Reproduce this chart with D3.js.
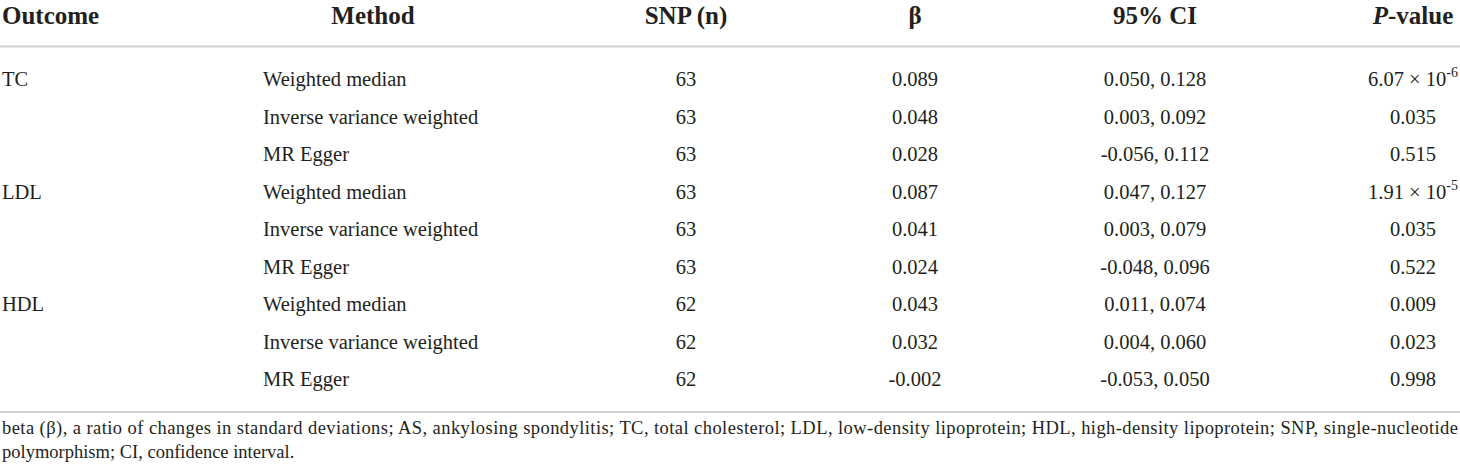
<!DOCTYPE html>
<html>
<head>
<meta charset="utf-8">
<script src="https://cdn.jsdelivr.net/npm/d3@7"></script>
<style>
  html, body { margin: 0; padding: 0; background: #fff; }
  svg { display: block; font-family: "Liberation Serif", "Times New Roman", serif; }
</style>
</head>
<body>
<div id="table"></div>
<script>
// table content
const headers = ["Outcome", "Method", "SNP (n)", "β", "95% CI", "P-value"];
const outcomes = ["TC", "LDL", "HDL"];
const methods = ["Weighted median", "Inverse variance weighted", "MR Egger"];
const snpCounts = [63, 63, 63, 63, 63, 63, 62, 62, 62];
const betas = ["0.089", "0.048", "0.028", "0.087", "0.041", "0.024", "0.043", "0.032", "-0.002"];
const ciLow = ["0.050", "0.003", "-0.056", "0.047", "0.003", "-0.048", "0.011", "0.004", "-0.053"];
const ciHigh = ["0.128", "0.092", "0.112", "0.127", "0.079", "0.096", "0.074", "0.060", "0.050"];
// p-values: [mantissa, exponent] for scientific notation, or plain string
const pValues = [["6.07", "-6"], "0.035", "0.515", ["1.91", "-5"], "0.035", "0.522", "0.009", "0.023", "0.998"];
const footnote = [
  "beta (β), a ratio of changes in standard deviations; AS, ankylosing spondylitis; TC, total cholesterol; LDL, low-density lipoprotein; HDL, high-density lipoprotein; SNP, single-nucleotide",
  "polymorphism; CI, confidence interval."
];

const width = 1460, height = 471;
const ink = "#231f20", ruleColor = "#d0d0d0";

const svg = d3.select("#table").append("svg")
    .attr("width", width)
    .attr("height", height);

// column centres (Outcome and Method data are left aligned)
const colX = d3.scaleOrdinal()
    .domain(headers)
    .range([2, 373, 686, 915, 1155, 1413]);
const methodLeft = 263;

// row baselines
const rowY = d3.scaleLinear().domain([0, 8]).range([86, 386]);

// header
const head = svg.append("g")
    .style("font-weight", "bold")
    .style("font-size", "25px")
    .attr("fill", ink);
headers.forEach((h, i) => {
    const t = head.append("text")
        .attr("x", colX(h))
        .attr("y", 24)
        .attr("text-anchor", i === 0 ? "start" : "middle");
    if (h === "P-value") {
        t.append("tspan").style("font-style", "italic").text("P");
        t.append("tspan").text("-value");
    } else {
        t.text(h);
    }
});

// rules
[46.5, 412].forEach(y => {
    svg.append("line")
        .attr("x1", 0).attr("x2", width)
        .attr("y1", y).attr("y2", y)
        .attr("stroke", ruleColor)
        .attr("stroke-width", 2);
});

// body rows
const rows = snpCounts.map((n, i) => ({
    outcome: i % 3 === 0 ? outcomes[i / 3] : "",
    method: methods[i % 3],
    snp: n,
    beta: betas[i],
    ci: `${ciLow[i]}, ${ciHigh[i]}`,
    p: pValues[i]
}));

const body = svg.append("g")
    .style("font-size", "20.5px")
    .attr("fill", ink);

const row = body.selectAll("g.row")
    .data(rows)
    .join("g")
    .attr("class", "row")
    .attr("transform", (d, i) => `translate(0,${rowY(i)})`);

row.append("text").attr("x", colX("Outcome")).text(d => d.outcome);
row.append("text").attr("x", methodLeft).text(d => d.method);
row.append("text").attr("x", colX("SNP (n)")).attr("text-anchor", "middle").text(d => d.snp);
row.append("text").attr("x", colX("β")).attr("text-anchor", "middle").text(d => d.beta);
row.append("text").attr("x", colX("95% CI")).attr("text-anchor", "middle").text(d => d.ci);

row.append("text")
    .attr("x", colX("P-value"))
    .attr("text-anchor", "middle")
    .each(function(d) {
        const t = d3.select(this);
        if (Array.isArray(d.p)) {
            t.append("tspan").text(`${d.p[0]} × 10`);
            t.append("tspan")
                .attr("dy", -9)
                .style("font-size", "14px")
                .text(d.p[1]);
        } else {
            t.text(d.p);
        }
    });

// footnote
const foot = svg.append("g")
    .style("font-size", "18.5px")
    .attr("fill", ink);
foot.append("text")
    .attr("x", 2).attr("y", 434)
    .attr("textLength", 1456)
    .attr("lengthAdjust", "spacing")
    .text(footnote[0]);
foot.append("text")
    .attr("x", 2).attr("y", 458)
    .text(footnote[1]);
</script>
</body>
</html>
